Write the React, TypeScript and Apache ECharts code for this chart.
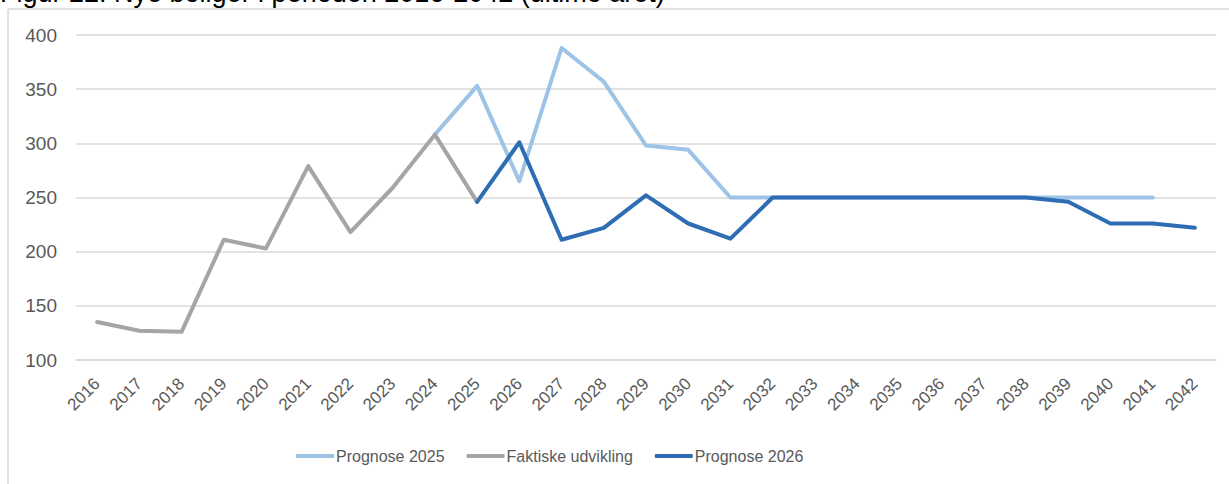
import React, { useEffect, useRef } from "react";
import * as echarts from "echarts";

const years = ["2016","2017","2018","2019","2020","2021","2022","2023","2024","2025","2026","2027","2028","2029","2030","2031","2032","2033","2034","2035","2036","2037","2038","2039","2040","2041","2042"];
const prognose2025 = [null,null,null,null,null,null,null,null,308,353,265,388,357,298,294,250,250,250,250,250,250,250,250,250,250,250,null];
const faktiske = [135,127,126,211,203,279,218,259,308,246,null,null,null,null,null,null,null,null,null,null,null,null,null,null,null,null,null];
const prognose2026 = [null,null,null,null,null,null,null,null,null,246,301,211,222,252,226,212,250,250,250,250,250,250,250,246,226,226,222];
const yTicks = { min: 100, max: 400, interval: 50 };
const titleText = "Figur 22. Nye boliger i perioden 2016-2042 (ultimo året)";

const FONT = "'Liberation Sans', sans-serif";

export default function App() {
  const ref = useRef<HTMLDivElement>(null);
  useEffect(() => {
    if (!ref.current) return;
    const chart = echarts.init(ref.current, null, { renderer: "svg" });
    const mk = (name: string, data: (number | null)[], color: string, z: number) => ({
      name,
      type: "line",
      data,
      symbol: "none",
      connectNulls: false,
      z,
      lineStyle: { color, width: 4, cap: "round", join: "round" },
      itemStyle: { color },
    });
    chart.setOption({
      animation: false,
      backgroundColor: "#ffffff",
      textStyle: { fontFamily: FONT },
      graphic: [
        {
          type: "text",
          left: 0,
          top: -21,
          style: { text: titleText, font: `27px ${FONT}`, fill: "#000000" },
          z: 10,
        },
        {
          type: "line",
          shape: { x1: 8, y1: 9, x2: 1229, y2: 9 },
          style: { stroke: "#D9D9D9", lineWidth: 1.5 },
          z: 10,
        },
        {
          type: "line",
          shape: { x1: 8, y1: 9, x2: 8, y2: 484 },
          style: { stroke: "#D9D9D9", lineWidth: 1.5 },
          z: 10,
        },
      ],
      grid: { left: 76, right: 13, top: 35, bottom: 124, containLabel: false },
      legend: {
        left: 296,
        top: 448,
        padding: 0,
        itemWidth: 38,
        itemHeight: 4,
        itemGap: 22,
        icon: "roundRect",
        textStyle: { color: "#595959", fontSize: 16, fontFamily: FONT, padding: [0, 0, 0, -3] },
        data: ["Prognose 2025", "Faktiske udvikling", "Prognose 2026"],
      },
      xAxis: {
        type: "category",
        data: years,
        boundaryGap: true,
        axisLine: { show: true, lineStyle: { color: "#D9D9D9", width: 1.5 } },
        axisTick: { show: false },
        axisLabel: { rotate: 45, color: "#595959", fontSize: 17, margin: 21, interval: 0, fontFamily: FONT },
        splitLine: { show: false },
      },
      yAxis: {
        type: "value",
        min: yTicks.min,
        max: yTicks.max,
        interval: yTicks.interval,
        axisLine: { show: false },
        axisTick: { show: false },
        axisLabel: { color: "#595959", fontSize: 19, margin: 19, fontFamily: FONT },
        splitLine: { lineStyle: { color: "#D9D9D9", width: 1.5 } },
      },
      series: [
        mk("Prognose 2025", prognose2025, "#9DC3E6", 2),
        mk("Faktiske udvikling", faktiske, "#A5A5A5", 3),
        mk("Prognose 2026", prognose2026, "#2E6DB4", 4),
      ],
    });
    return () => chart.dispose();
  }, []);
  return (
    <div
      ref={ref}
      style={{ position: "fixed", left: 0, top: 0, width: 1229, height: 484 }}
    />
  );
}
